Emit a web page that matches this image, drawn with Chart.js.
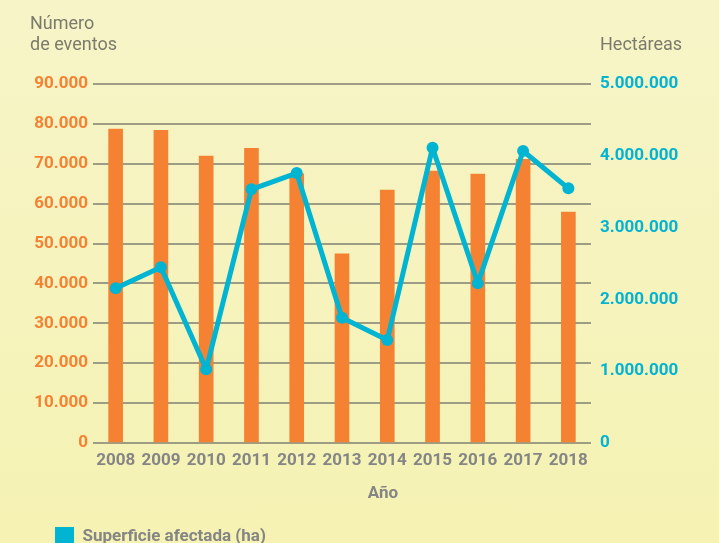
<!DOCTYPE html>
<html>
<head>
<meta charset="utf-8">
<script src="https://cdn.jsdelivr.net/npm/chart.js@4"></script>
<style>
  html, body { margin: 0; padding: 0; width: 719px; height: 543px; overflow: hidden; }
  body { background: linear-gradient(#f7f4c8, #f5f2b3); }
  #wrap { width: 719px; height: 556px; }
</style>
</head>
<body>
<div id="wrap"><canvas id="chart" width="719" height="556"></canvas></div>
<script>
const years = ['2008', '2009', '2010', '2011', '2012', '2013', '2014', '2015', '2016', '2017', '2018'];
const eventos = [78700, 78400, 71900, 73900, 67500, 47400, 63400, 68200, 67400, 71100, 57900];
const hectareas = [2155000, 2447000, 1026000, 3533000, 3760000, 1745000, 1434000, 4113000, 2224000, 4067000, 3547000];

const orange = '#f58233';
const cyan = '#00b4d2';
const gray = '#858585';
const titleGray = '#7b7b6b';

// spanish thousands separator
const fmt = v => v === 0 ? '0' : v.toString().replace(/\B(?=(\d{3})+(?!\d))/g, '.');

const axisTitles = {
    id: 'axisTitles',
    afterDraw(chart) {
        const ctx = chart.ctx;
        ctx.save();
        ctx.textBaseline = 'alphabetic';
        ctx.fillStyle = titleGray;
        ctx.font = '18px Roboto';
        ctx.textAlign = 'left';
        ctx.fillText('Número', 30, 29);
        ctx.fillText('de eventos', 30, 50);
        ctx.fillText('Hectáreas', 600, 50);
        ctx.font = 'bold 17px Roboto';
        ctx.fillStyle = gray;
        ctx.textAlign = 'center';
        ctx.fillText('Año', 383, 498);
        ctx.restore();
    }
};

const ctx = document.getElementById('chart').getContext('2d');
const chart = new Chart(ctx, {
    type: 'bar',
    data: {
        labels: years,
        datasets: [
            {
                type: 'bar',
                label: 'Número de eventos',
                data: eventos,
                backgroundColor: orange,
                yAxisID: 'y',
                barThickness: 14,
                order: 1,
            },
            {
                type: 'line',
                label: 'Superficie afectada (ha)',
                data: hectareas,
                borderColor: cyan,
                backgroundColor: cyan,
                borderWidth: 5,
                borderJoinStyle: 'round',
                borderCapStyle: 'round',
                tension: 0,
                pointRadius: 6,
                pointBackgroundColor: cyan,
                pointBorderWidth: 0,
                yAxisID: 'y1',
                order: 0,
            },
        ],
    },
    options: {
        responsive: false,
        animation: false,
        layout: { padding: { top: 84, left: 0, right: 0, bottom: 0 } },
        plugins: {
            tooltip: { enabled: false },
            legend: {
                position: 'bottom',
                align: 'start',
                labels: {
                    padding: 55,
                    boxWidth: 19,
                    boxHeight: 19,
                    color: gray,
                    font: { family: 'Roboto', size: 17, weight: 'bold' },
                    generateLabels(c) {
                        const items = Chart.defaults.plugins.legend.labels.generateLabels(c);
                        return items
                            .filter(i => i.datasetIndex === 1)
                            .map(i => ({ ...i, lineWidth: 0, fillStyle: cyan, strokeStyle: cyan }));
                    },
                },
            },
        },
        scales: {
            x: {
                grid: { display: false, drawTicks: false },
                border: { display: false },
                ticks: {
                    color: gray,
                    padding: 8,
                    font: { family: 'Roboto', size: 17, weight: 'bold' },
                },
                afterFit(scale) { scale.height = 29; },
            },
            y: {
                position: 'left',
                min: 0,
                max: 90000,
                grid: { color: '#9d9c84', lineWidth: 2, drawTicks: false },
                border: { display: false },
                ticks: {
                    stepSize: 10000,
                    color: orange,
                    padding: 5,
                    font: { family: 'Roboto', size: 17, weight: 'bold' },
                    callback: v => fmt(v),
                },
                afterFit(scale) { scale.width = 93; },
            },
            y1: {
                position: 'right',
                min: 0,
                max: 5000000,
                grid: { display: false, drawTicks: false },
                border: { display: false },
                ticks: {
                    stepSize: 1000000,
                    color: cyan,
                    padding: 9,
                    font: { family: 'Roboto', size: 17, weight: 'bold' },
                    callback: v => fmt(v),
                },
                afterFit(scale) { scale.width = 128; },
            },
        },
    },
    plugins: [axisTitles],
});
</script>
</body>
</html>
